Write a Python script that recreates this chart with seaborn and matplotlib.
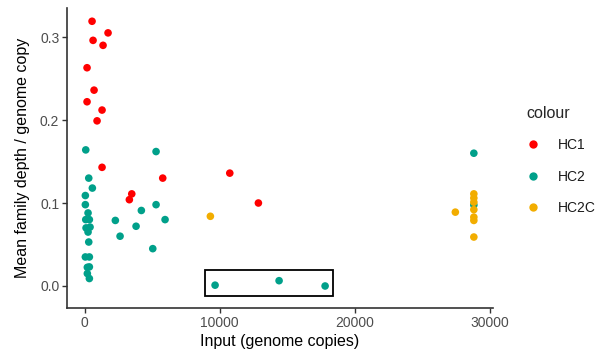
import matplotlib
matplotlib.use("Agg")
import matplotlib.pyplot as plt
import matplotlib.patches as mpatches
from matplotlib.lines import Line2D
import seaborn as sns
import pandas as pd

hc1_x = [556, 630, 1740, 1370, 185, 704, 185, 1296, 926, 1296, 5790, 3496, 3318, 10755, 12874]
hc1_y = [0.319, 0.296, 0.305, 0.290, 0.263, 0.236, 0.222, 0.212, 0.199, 0.143, 0.130, 0.111, 0.104, 0.136, 0.100]

hc2_x = [89, 5296, 311, 578, 59, 59, 5296, 4207, 259, 5963, 2281, 89, 356, 3815, 111, 407,
         2630, 259, 311, 5052, 59, 356, 356, 207, 207, 356, 9667, 14407, 17815, 28830, 28830]
hc2_y = [0.164, 0.162, 0.130, 0.118, 0.109, 0.098, 0.098, 0.091, 0.088, 0.080, 0.079, 0.080,
         0.080, 0.072, 0.070, 0.071, 0.060, 0.065, 0.053, 0.045, 0.035, 0.035, 0.023, 0.0225,
         0.015, 0.009, 0.001, 0.0064, 0.000, 0.160, 0.0976]

hc2c_x = [9318, 28830, 28830, 28830, 28830, 27460, 28830, 28830, 28830]
hc2c_y = [0.084, 0.111, 0.106, 0.101, 0.092, 0.089, 0.083, 0.079, 0.059]

groups = ["HC1", "HC2", "HC2C"]
colors = ["#FF0000", "#00A08A", "#F2AD00"]

df = pd.DataFrame({
    "x": hc1_x + hc2_x + hc2c_x,
    "y": hc1_y + hc2_y + hc2c_y,
    "colour": ["HC1"] * len(hc1_x) + ["HC2"] * len(hc2_x) + ["HC2C"] * len(hc2c_x),
})

sns.set_style("white")
plt.rcParams["font.family"] = ["Liberation Sans", "DejaVu Sans"]

fig = plt.figure(figsize=(5.95, 3.58), dpi=100)
ax = fig.add_axes([0.1126, 0.1397, 0.7160, 0.8380])

sns.scatterplot(data=df, x="x", y="y", hue="colour", hue_order=groups,
                palette=dict(zip(groups, colors)), s=30, edgecolor="none",
                linewidth=0, ax=ax, legend=False, zorder=3)

# highlight box
ax.add_patch(mpatches.Rectangle((8925, -0.012), 18400 - 8925, 0.031,
                                fill=False, edgecolor="black", linewidth=1.3, zorder=4))

ax.set_xlim(-1300, 30250)
ax.set_ylim(-0.0265, 0.335)
ax.set_xticks([0, 10000, 20000, 30000])
ax.set_xticklabels(["0", "10000", "20000", "30000"])
ax.set_yticks([0.0, 0.1, 0.2, 0.3])
ax.set_yticklabels(["0.0", "0.1", "0.2", "0.3"])

for side in ["top", "right"]:
    ax.spines[side].set_visible(False)
for side in ["left", "bottom"]:
    ax.spines[side].set_color("#333333")
    ax.spines[side].set_linewidth(1.2)
ax.tick_params(axis="both", which="major", length=3.5, width=1, color="#333333",
               labelsize=10, labelcolor="#4D4D4D", direction="out", bottom=True, left=True, pad=2)
ax.set_xlabel("Input (genome copies)", fontsize=11.5, color="black", labelpad=3)
ax.set_ylabel("Mean family depth / genome copy", fontsize=11.5, color="black", labelpad=7)
ax.grid(False)

handles = [Line2D([0], [0], marker="o", linestyle="none", markersize=6,
                  markerfacecolor=c, markeredgecolor="none") for c in colors]
leg = fig.legend(handles, groups, title="colour", loc="upper left",
                 bbox_to_anchor=(0.875, 0.72), frameon=False, fontsize=10,
                 title_fontsize=11.5, handletextpad=1.3, labelspacing=1.25,
                 handlelength=1.0, borderaxespad=0)
leg._legend_box.align = "left"
for t in leg.get_texts():
    t.set_color("#1A1A1A")

fig.savefig("out.png", dpi=100)
